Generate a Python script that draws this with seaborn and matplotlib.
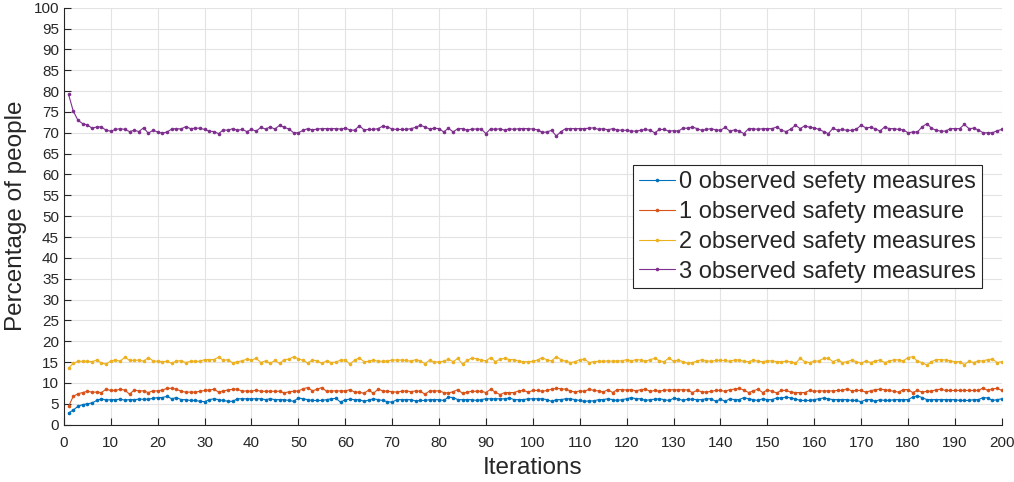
import matplotlib
matplotlib.use('Agg')
import matplotlib.pyplot as plt
import seaborn as sns

# x values: one point per iteration
iterations = list(range(1, 201))

labels = ['0 observed sefety measures',
          '1 observed safety measure',
          '2 observed safety measures',
          '3 observed safety measures']

# values (percent of people)
zero_measures = [
    2.8, 3.5, 4.4, 4.8, 5.0, 5.2, 5.8, 6.2, 5.9, 6.0, 6.0, 6.1, 5.9, 6.0, 6.0, 6.1, 6.1, 6.1, 6.3, 6.5,
    6.5, 6.8, 6.2, 6.5, 6.0, 6.0, 5.8, 5.8, 5.6, 5.5, 6.0, 6.2, 6.0, 5.8, 5.6, 5.6, 6.2, 6.2, 6.2, 6.2,
    6.2, 6.2, 6.0, 6.2, 6.0, 6.0, 6.0, 5.8,
    5.6, 6.4, 6.2, 6.0, 5.8, 5.8, 5.8, 6.0, 6.2, 6.3, 5.4, 6.0, 6.1, 6.0, 6.0, 5.6, 5.9, 6.2, 6.0, 5.8,
    5.5, 5.4, 6.0, 6.0, 6.0, 6.0, 5.7, 5.8, 5.8, 6.0, 6.0, 6.0, 5.8, 6.6, 6.5, 6.0, 6.0, 6.0, 6.0, 5.8,
    6.0, 6.2, 6.2, 6.2, 6.2, 6.2, 6.4, 6.0,
    6.0, 6.0, 6.2, 6.2, 6.2, 6.2, 6.0, 5.6, 6.0, 6.0, 6.2, 6.2, 6.0, 5.8, 5.6, 5.7, 5.7, 6.0, 6.0, 6.2,
    6.0, 5.8, 6.0, 6.2, 6.5, 6.2, 6.2, 5.8, 6.0, 6.1, 6.2, 6.0, 5.8, 6.3, 6.2, 5.8, 6.1, 6.1, 6.0, 6.0,
    6.2, 6.2, 5.6, 6.1, 5.6, 6.2, 6.0, 6.0, 6.5, 6.2, 6.0, 5.8, 6.2, 6.0,
    6.0, 6.4, 6.4, 6.6, 6.4, 6.2, 5.8, 5.8, 5.8, 6.0, 6.2, 6.4, 6.2, 6.0, 6.0, 6.0, 6.0, 5.8, 5.8, 5.5,
    6.0, 6.0, 5.6, 6.0, 5.8, 5.8, 6.0, 6.0, 6.0, 6.0, 6.6, 6.9, 6.5, 6.0, 6.0, 6.0, 6.0, 6.0, 6.0, 6.0,
    5.8, 5.8, 5.8, 6.0, 6.0, 6.5, 6.4, 5.8, 6.0, 6.2,
]

one_measure = [
    4.4, 6.8, 7.4, 7.7, 8.0, 7.8, 7.8, 7.7, 8.5, 8.2, 8.2, 8.5, 8.3, 7.3, 8.3, 8.1, 8.1, 7.7, 8.1, 8.1,
    8.3, 8.7, 8.7, 8.5, 8.0, 7.8, 7.8, 7.8, 8.0, 8.2, 8.3, 8.5, 7.8, 8.1, 8.3, 8.5, 8.5, 8.0, 8.1, 8.0,
    8.3, 8.0, 8.0, 8.0, 8.0, 8.0, 7.6, 7.9,
    8.0, 8.1, 8.6, 8.9, 8.1, 8.5, 8.9, 8.0, 8.1, 8.1, 8.1, 8.1, 8.4, 7.8, 7.8, 7.5, 8.3, 7.5, 8.5, 8.1,
    8.0, 7.9, 7.8, 8.0, 8.1, 7.9, 8.1, 8.0, 7.3, 8.1, 8.1, 8.1, 7.7, 7.6, 7.9, 8.4, 7.5, 7.8, 8.0, 8.0,
    8.0, 7.7, 8.5, 7.8, 7.2, 7.7, 7.7, 7.7,
    8.1, 8.2, 7.8, 8.2, 8.2, 8.0, 8.2, 8.5, 8.7, 8.6, 8.5, 8.1, 7.8, 8.1, 8.0, 8.5, 8.2, 8.1, 7.8, 8.4,
    7.7, 8.4, 8.4, 8.3, 8.4, 8.1, 8.4, 8.5, 8.0, 8.2, 8.0, 8.3, 8.3, 8.4, 8.3, 8.4, 8.3, 7.7, 8.2, 7.9,
    7.8, 8.0, 8.2, 8.2, 8.0, 8.4, 8.5, 8.7, 8.3, 7.7, 8.1, 8.5, 7.7, 8.3,
    8.0, 7.6, 8.2, 8.2, 7.8, 7.7, 7.7, 7.7, 8.2, 8.0, 8.1, 8.1, 8.1, 8.1, 8.2, 8.2, 8.6, 8.1, 8.2, 8.2,
    7.8, 8.1, 8.4, 8.5, 8.4, 8.2, 8.0, 7.8, 8.4, 8.4, 7.7, 8.2, 7.8, 8.0, 8.0, 8.4, 8.5, 8.2, 8.2, 8.2,
    8.2, 8.2, 8.2, 8.2, 8.2, 8.8, 8.2, 8.6, 8.7, 8.2,
]

two_measures = [
    13.6, 14.7, 15.2, 15.2, 15.2, 15.1, 15.5, 14.8, 14.5, 15.3, 15.5, 15.2, 16.2, 15.4, 15.4, 15.5,
    15.2, 16.1, 15.3, 15.2, 15.1, 15.2, 14.7, 15.3, 15.3, 14.9, 15.2, 15.2, 15.2, 15.6, 15.6, 15.6,
    16.2, 15.4, 15.6, 14.8, 15.1, 15.3, 15.7, 15.5, 15.9, 14.9, 15.3, 14.7, 15.4, 14.7, 15.6, 15.7,
    16.3, 15.8, 15.4, 14.8, 15.5, 15.3, 14.7, 15.3, 14.9, 15.0, 15.5, 15.5, 14.5, 15.5, 16.0, 15.1,
    15.2, 15.5, 15.2, 15.2, 15.3, 15.5, 15.5, 15.5, 15.4, 15.2, 15.6, 15.3, 14.6, 15.5, 15.0, 15.1,
    15.2, 15.7, 15.1, 15.9, 14.5, 15.4, 16.0, 15.8, 15.5, 15.3, 16.1, 15.1, 15.7, 15.9, 15.6, 15.6,
    15.2, 15.1, 15.1, 15.2, 15.5, 16.1, 15.5, 15.3, 16.3, 15.6, 15.2, 14.9, 15.1, 15.6, 15.7, 14.9,
    15.1, 15.2, 15.2, 15.3, 15.2, 15.3, 15.3, 15.6, 15.3, 15.6, 15.5, 15.2, 15.6, 15.9, 15.3, 15.1,
    16.0, 15.2, 15.5, 15.1, 14.7, 14.9, 15.2, 15.6, 15.3, 15.2, 15.4, 15.4, 15.4, 15.2, 15.5, 15.5,
    15.2, 15.1, 15.5, 15.2, 15.1, 15.3,
    15.3, 15.1, 15.1, 15.2, 15.1, 14.7, 15.9, 15.1, 14.9, 15.2, 15.3, 15.9, 15.9, 15.1, 15.6, 14.9,
    15.1, 15.5, 15.1, 14.7, 15.3, 14.9, 15.3, 15.5, 14.9, 15.2, 15.6, 15.5, 15.3, 16.1, 16.3, 15.2,
    14.9, 14.3, 15.1, 15.6, 15.6, 15.5, 15.3, 15.1, 15.1, 14.4, 15.2, 14.9, 15.3, 15.3, 15.6, 15.7,
    14.9, 15.1,
]

three_measures = [
    79.2, 75.2, 73.0, 72.2, 71.9, 71.1, 71.4, 71.4, 70.6, 70.4, 70.8, 71.0, 70.8, 70.3, 70.6, 70.3,
    71.2, 69.9, 70.6, 70.2, 69.9, 70.2, 70.9, 71.0, 70.9, 71.5, 71.0, 71.1, 71.1, 70.8, 70.4, 70.3,
    69.8, 70.7, 70.6, 71.0, 70.6, 70.8, 70.3, 70.8, 70.4, 71.3, 70.9, 71.4, 70.9, 71.8, 71.3, 70.9,
    70.0, 70.0, 70.6, 71.0, 70.7, 70.9, 71.0, 71.0, 71.0, 71.0, 70.9, 71.1, 70.7, 70.6, 71.7, 70.7,
    70.8, 70.8, 71.0, 71.6, 71.4, 70.9, 70.8, 70.8, 70.8, 71.0, 71.3, 71.8, 71.4, 70.9, 71.1, 71.0,
    70.2, 71.1, 70.2, 71.0, 71.0, 70.6, 70.9, 70.9, 70.9, 69.8, 71.0, 70.8, 71.0, 70.6, 71.0, 70.8,
    71.0,
    71.0, 71.0, 70.9, 70.7, 70.1, 70.2, 70.6, 69.2, 70.3, 71.0, 71.0, 71.0, 71.0, 71.0, 71.1, 71.2,
    70.8, 71.0, 70.7, 71.0, 70.7, 70.6, 70.6, 70.4, 70.4, 70.6, 70.8, 70.6, 70.0, 70.8, 70.8, 70.4,
    70.5, 70.4, 71.1, 71.1, 71.4, 71.0, 70.6, 70.8, 71.0, 70.7, 70.6, 71.3, 70.4, 70.7, 70.4, 69.8,
    71.0, 71.0, 70.8, 71.0, 71.0,
    71.0, 71.4, 70.6, 70.3, 70.9, 71.8, 71.0, 71.7, 71.3, 71.2, 70.8, 70.3, 69.8, 71.1, 70.6, 70.8,
    70.6, 70.6, 70.9, 71.8, 71.2, 71.3, 71.0, 70.4, 71.4, 71.0, 71.0, 70.8, 70.7, 70.0, 70.2, 70.2,
    71.4, 72.2, 71.1, 70.6, 70.4, 70.4, 71.0, 71.0, 71.0, 72.0, 71.0, 71.1, 70.7, 70.0, 70.0, 70.0,
    70.5, 70.8,
]

series = [zero_measures, one_measure, two_measures, three_measures]
colors = ['#0072BD', '#D95319', '#EDB120', '#7E2F8E']

sns.set_theme(style='whitegrid')
plt.rcParams['font.family'] = ['Liberation Sans', 'DejaVu Sans']

fig = plt.figure(figsize=(10.14, 4.82), dpi=100)
ax = fig.add_axes([0.063, 0.119, 0.925, 0.865])

for vals, lab, col in zip(series, labels, colors):
    sns.lineplot(x=iterations, y=vals, ax=ax, color=col, linewidth=0.8,
                 marker='o', markersize=2.6, markeredgewidth=0, label=lab)

ax.set_xlim(0, 200)
ax.set_ylim(0, 100)
ax.set_xticks(range(0, 201, 10))
ax.set_yticks(range(0, 101, 5))

ax.grid(True, color='#E3E3E3', linewidth=0.8)
ax.set_facecolor('white')
for side in ['top', 'right']:
    ax.spines[side].set_visible(False)
for side in ['left', 'bottom']:
    ax.spines[side].set_color('#262626')
    ax.spines[side].set_linewidth(0.8)

ax.tick_params(direction='in', length=5, width=0.8, colors='#262626',
               labelsize=11, left=True, bottom=True)
ax.tick_params(axis='x', pad=8)

ax.set_xlabel('Iterations', fontsize=17.5, color='#262626', labelpad=5)
ax.set_ylabel('Percentage of people', fontsize=17.5, color='#262626', labelpad=5)

leg = ax.legend(loc='upper right', bbox_to_anchor=(0.979, 0.622), fontsize=17,
                frameon=True, fancybox=False, framealpha=1, edgecolor='#262626',
                borderpad=0.25, labelspacing=0.33, handlelength=1.5,
                handletextpad=0.2, borderaxespad=0)
leg.get_frame().set_linewidth(0.8)

plt.savefig('out.png', dpi=100)
